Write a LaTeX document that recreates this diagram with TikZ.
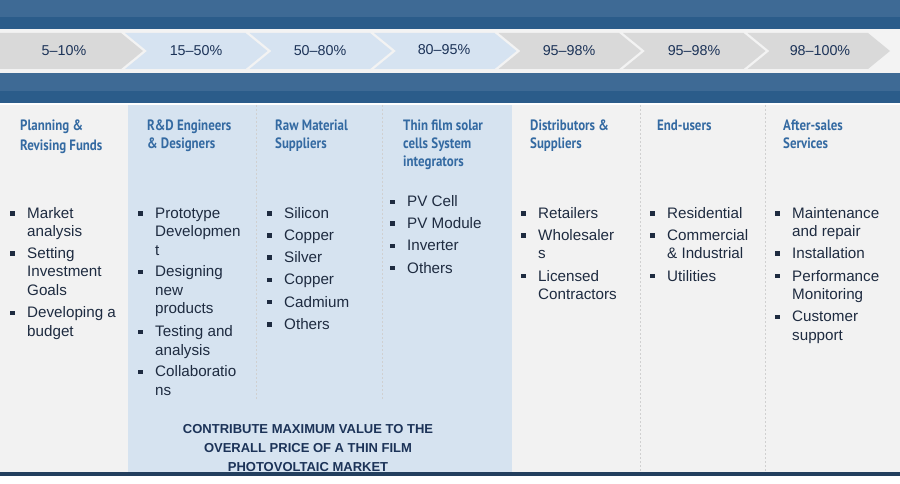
\documentclass[tikz,border=0pt]{standalone}
\usepackage{fontspec}
\setmainfont{Liberation Sans}
\newfontfamily\headf[FakeStretch=0.86]{PT Sans}
\definecolor{bandA}{HTML}{3E6A95}
\definecolor{bandB}{HTML}{2B5C8A}
\definecolor{rowbg}{HTML}{F3F3F3}
\definecolor{chgray}{HTML}{D9D9D9}
\definecolor{chblue}{HTML}{D6E3F1}
\definecolor{panel}{HTML}{F2F2F2}
\definecolor{hilite}{HTML}{D6E3F0}
\definecolor{headc}{HTML}{346AA2}
\definecolor{txtc}{HTML}{1E2B40}
\definecolor{labc}{HTML}{1C3358}
\definecolor{botbar}{HTML}{233F5E}
\definecolor{sepc}{HTML}{D0D0D0}
\tikzset{
 itm/.style={anchor=base west, inner sep=0pt, text=txtc, font=\fontsize{15.2}{18}\selectfont},
 hdtxt/.style={anchor=base west, inner sep=0pt, text=headc, font=\headf\bfseries\fontsize{15}{17}\selectfont},
 lab/.style={inner sep=0pt, text=labc, font=\fontsize{14.3}{16}\selectfont},
 bul/.style={fill=txtc},
 sepline/.style={draw=sepc, dash pattern=on 2pt off 2pt, line width=0.6pt},
 chevg/.style={fill=chgray},
 chevb/.style={fill=chblue},
 notetxt/.style={anchor=base, inner sep=0pt, text=labc, font=\bfseries\fontsize{13}{16}\selectfont}
}
% bullet item: name, x, first-line centre y, lines
\newcommand\bitem[4]{%
  \fill[bul] ({#2-16.8},{#3-2.2}) rectangle ++(4.4,4.4);
  \foreach \mytext [count=\i] in {#4} {\node[itm,name=#1-\i] at (#2,{#3+5+(\i-1)*18.4}) {\mytext};}%
}
% heading: name, x, first-line centre y, spacing, lines
\newcommand\headline[5]{%
  \foreach \mytext [count=\i] in {#5} {\node[hdtxt,name=#1-\i] at (#2,{#3+5.4+(\i-1)*#4}) {\mytext};}%
}
% chevron: style, previous tip, tip
\newcommand\chev[3]{%
  \fill[#1] ({#2-18},33) -- ({#3-22},33) -- (#3,51) -- ({#3-22},69) -- ({#2-18},69) -- ({#2+4},51) -- cycle;%
}
\begin{document}
\begin{tikzpicture}[x=1pt,y=-1pt]
\useasboundingbox (0,0) rectangle (900,484);
\fill[white] (0,0) rectangle (900,484);
% top bands
\fill[bandA] (0,0) rectangle (900,17);
\fill[bandB] (0,17) rectangle (900,29.5);
\fill[rowbg] (0,29.5) rectangle (900,73);
\fill[bandA] (0,73) rectangle (900,91);
\fill[bandB] (0,91) rectangle (900,103.5);
% chevrons
\fill[chevg] (0,33) -- (121,33) -- (143,51) -- (121,69) -- (0,69) -- cycle;
\chev{chevb}{143}{267.5}
\chev{chevb}{267.5}{392}
\chev{chevb}{392}{516.5}
\chev{chevg}{516.5}{641}
\chev{chevg}{641}{765.5}
\chev{chevg}{765.5}{890}
\node[lab] (c1) at (64,51) {5–10\%};
\node[lab] (c2) at (196,51) {15–50\%};
\node[lab] (c3) at (320,51) {50–80\%};
\node[lab] (c4) at (444,50) {80–95\%};
\node[lab] (c5) at (569,51) {95–98\%};
\node[lab] (c6) at (694,51) {95–98\%};
\node[lab] (c7) at (820,51) {98–100\%};
% content panels
\fill[panel] (0,105) rectangle (900,472);
\fill[hilite] (128,105) rectangle (512,472);
\draw[sepline] (256,105) -- (256,400);
\draw[sepline] (382,105) -- (382,400);
\draw[sepline] (640,105) -- (640,472);
\draw[sepline] (765,105) -- (765,472);
% bottom bar
\fill[botbar] (0,472) rectangle (900,476);
% headings
\headline{h1}{20}{125.3}{20}{Planning \&,Revising Funds}
\headline{h2}{147}{125.3}{18}{R\&D Engineers,\& Designers}
\headline{h3}{275}{125.3}{18}{Raw Material,Suppliers}
\headline{h4}{403}{125.3}{18}{Thin film solar,cells System,integrators}
\headline{h5}{530}{125.3}{18}{Distributors \&,Suppliers}
\headline{h6}{657}{125.3}{18}{End-users}
\headline{h7}{783}{125.3}{18}{After-sales,Services}
% column 1
\bitem{a1}{27}{213.3}{Market,analysis}
\bitem{a2}{27}{253.3}{Setting,Investment,Goals}
\bitem{a3}{27}{312.7}{Developing a,budget}
% column 2
\bitem{b1}{155}{213.3}{Prototype,Developmen,t}
\bitem{b2}{155}{271.7}{Designing,new,products}
\bitem{b3}{155}{331.7}{Testing and,analysis}
\bitem{b4}{155}{371.7}{Collaboratio,ns}
% column 3
\bitem{d1}{284}{213.3}{Silicon}
\bitem{d2}{284}{235.5}{Copper}
\bitem{d3}{284}{257.5}{Silver}
\bitem{d4}{284}{279.7}{Copper}
\bitem{d5}{284}{302}{Cadmium}
\bitem{d6}{284}{324.3}{Others}
% column 4
\bitem{e1}{407}{201.7}{PV Cell}
\bitem{e2}{407}{223.5}{PV Module}
\bitem{e3}{407}{245.7}{Inverter}
\bitem{e4}{407}{268}{Others}
% column 5
\bitem{f1}{538}{213.3}{Retailers}
\bitem{f2}{538}{235.3}{Wholesaler,s}
\bitem{f3}{538}{276}{Licensed,Contractors}
% column 6
\bitem{g1}{667}{213.3}{Residential}
\bitem{g2}{667}{235.3}{Commercial,\& Industrial}
\bitem{g3}{667}{276}{Utilities}
% column 7
\bitem{k1}{792}{213.3}{Maintenance,and repair}
\bitem{k2}{792}{253.3}{Installation}
\bitem{k3}{792}{276}{Performance,Monitoring}
\bitem{k4}{792}{316.7}{Customer,support}
% note
\node[notetxt] (n1) at (308,433.6) {CONTRIBUTE MAXIMUM VALUE TO THE};
\node[notetxt] (n2) at (308,452.6) {OVERALL PRICE OF A THIN FILM};
\node[notetxt] (n3) at (308,471) {PHOTOVOLTAIC MARKET};
\end{tikzpicture}
\end{document}
